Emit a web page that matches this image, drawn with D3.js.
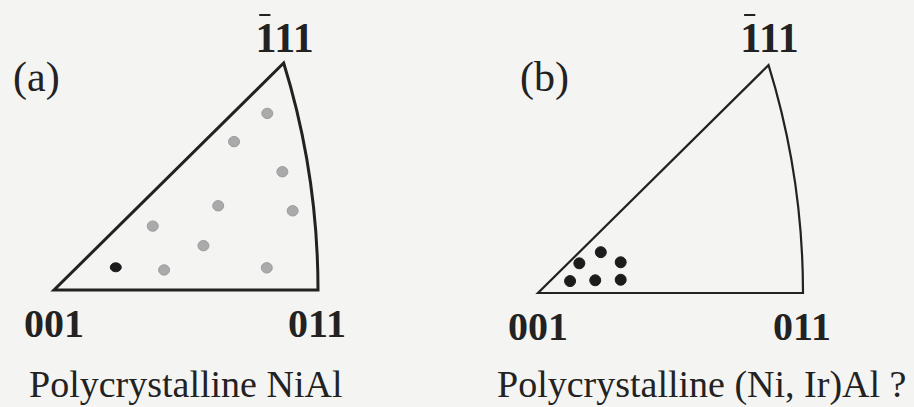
<!DOCTYPE html>
<html>
<head>
<meta charset="utf-8">
<script src="https://cdn.jsdelivr.net/npm/d3@7"></script>
<style>
  html, body { margin: 0; padding: 0; background: #f4f4f2; }
  svg { display: block; }
</style>
</head>
<body>
<svg id="chart" width="914" height="407"></svg>
<script>
// Standard stereographic triangle, in units of the 001–011 edge
const vertexNames = ["001", "011", "111"];   // first digit of the pole carries an overbar
const vertexX = [0, 1, 0.87];
const vertexY = [0, 0, 0.86];

const panelTags = ["(a)", "(b)"];
const captions = ["Polycrystalline NiAl", "Polycrystalline (Ni, Ir)Al ?"];

// (a) grain orientations measured in polycrystalline NiAl
const nialX = [0.808, 0.682, 0.865, 0.622, 0.904, 0.374, 0.566, 0.806, 0.417];
const nialY = [0.669, 0.562, 0.448, 0.319, 0.300, 0.242, 0.168, 0.084, 0.076];
// (a) highlighted orientation
const nialMarkX = [0.234];
const nialMarkY = [0.086];

// (b) grain orientations in (Ni, Ir)Al
const niirX = [0.237, 0.156, 0.312, 0.121, 0.216, 0.312];
const niirY = [0.154, 0.112, 0.116, 0.045, 0.048, 0.050];

const FONT = "'Liberation Serif', Tinos, 'DejaVu Serif', serif";
const svg = d3.select("#chart");

const panels = [
  { origin: [54, 290], size: 264, stroke: 3, tagX: 13, capX: 29,
    dots: [
      { xs: nialX, ys: nialY, fill: "#aaaaaa", stroke: "#9c9c9c", rx: 5.5, ry: 5.2 },
      { xs: nialMarkX, ys: nialMarkY, fill: "#1c1c1c", stroke: "#1c1c1c", rx: 5.5, ry: 4.5 }
    ] },
  { origin: [538, 293], size: 265, stroke: 2.2, tagX: 520, capX: 497,
    dots: [
      { xs: niirX, ys: niirY, fill: "#1c1c1c", stroke: "#1c1c1c", rx: 5.5, ry: 5.5 }
    ] }
];

function label(g, txt, px, py, size, weight, anchor) {
  return g.append("text")
    .attr("x", px).attr("y", py)
    .attr("font-family", FONT)
    .attr("font-size", size)
    .attr("font-weight", weight)
    .attr("text-anchor", anchor)
    .attr("fill", "#222")
    .text(txt);
}

panels.forEach((p, i) => {
  const g = svg.append("g");
  const x = d3.scaleLinear().domain([0, 1]).range([p.origin[0], p.origin[0] + p.size]);
  const y = d3.scaleLinear().domain([0, 1]).range([p.origin[1], p.origin[1] - p.size]);

  // 011–111 edge: great-circle arc whose centre lies on the 001–011 line
  const [x1, y1] = [vertexX[1], vertexY[1]];
  const [x2, y2] = [vertexX[2], vertexY[2]];
  const c = ((x2 * x2 + y2 * y2) - x1 * x1) / (2 * (x2 - x1));
  const R = x1 - c;
  const cx = x(c), cy = y(0), rPx = x(c + R) - x(c);
  const a1 = Math.atan2(y(y2) - cy, x(x2) - cx);

  const path = d3.path();
  path.moveTo(x(vertexX[0]), y(vertexY[0]));
  path.lineTo(x(x1), y(y1));
  path.arc(cx, cy, rPx, 0, a1, true);
  path.closePath();

  g.append("path")
    .attr("d", path.toString())
    .attr("fill", "none")
    .attr("stroke", "#222")
    .attr("stroke-width", p.stroke)
    .attr("stroke-linejoin", "miter");

  p.dots.forEach(set => {
    g.selectAll(null)
      .data(d3.range(set.xs.length))
      .join("ellipse")
      .attr("cx", k => x(set.xs[k]))
      .attr("cy", k => y(set.ys[k]))
      .attr("rx", set.rx)
      .attr("ry", set.ry)
      .attr("fill", set.fill)
      .attr("stroke", set.stroke)
      .attr("stroke-width", 1);
  });

  // Vertex labels
  label(g, vertexNames[0], x(vertexX[0]), y(vertexY[0]) + 47, 40, "bold", "middle");
  label(g, vertexNames[1], x(vertexX[1]) - 1, y(vertexY[1]) + 47, 40, "bold", "middle");
  const pole = label(g, vertexNames[2], x(vertexX[2]) + 1, 52, 42, "bold", "middle");
  const ext = pole.node().getExtentOfChar(0);
  g.append("line")
    .attr("x1", ext.x + ext.width * 0.2).attr("x2", ext.x + ext.width * 0.8)
    .attr("y1", 15).attr("y2", 15)
    .attr("stroke", "#222").attr("stroke-width", 2);

  label(g, panelTags[i], p.tagX, 91, 42, "normal", "start");
  label(g, captions[i], p.capX, 397, 38, "normal", "start");
});
</script>
</body>
</html>
